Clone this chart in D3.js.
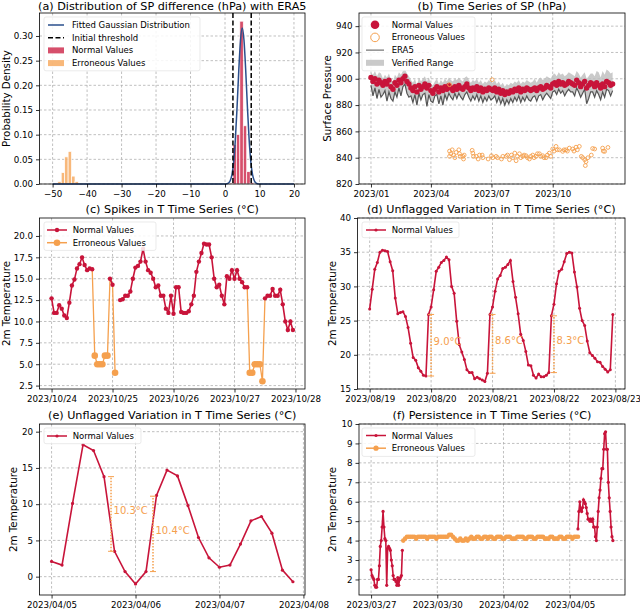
<!DOCTYPE html>
<html>
<head>
<meta charset="utf-8">
<script src="https://cdn.jsdelivr.net/npm/d3@7"></script>
<style>
  body { margin: 0; background: #fff; }
  svg { display: block; font-family: "DejaVu Sans", sans-serif; }
</style>
</head>
<body>
<script>
const red = "#c8143a", orange = "#f5a04e", blue = "#2a4f8c";

// (a) distribution of SP difference
const gaussX = [-50, 0, 0.5, 1, 1.5, 2, 2.5, 3, 3.5, 4, 4.5, 5, 5.5, 6, 6.5, 7, 7.5, 8, 8.5, 9, 9.5, 10, 20];
const gaussY = [0, 0, 0.0005, 0.002, 0.0067, 0.0186, 0.044, 0.090, 0.156, 0.231, 0.292, 0.316, 0.292, 0.231, 0.156, 0.090, 0.044, 0.0186, 0.0067, 0.002, 0.0005, 0, 0];
const thresholds = [2.3, 7.6];
const normalBinLeft = [1.3, 2.3, 3.3, 4.3, 5.3, 6.3, 7.3];
const normalDensity = [0.002, 0.08, 0.10, 0.33, 0.118, 0.025, 0.003];
const errBinLeft = [-48.5, -47.5, -46.5, -45.5, -44.5, -43.5];
const errDensity = [0.005, 0.023, 0.055, 0.066, 0.016, 0.005];

// (b) SP time series, one sample every 3 days from 2023/01/01
const spStepDays = 3;
const spNormal = [
  901, 898, 900, 896, 899, 897, 895, 898, 896, 899, 894,
  892, 897, 895, 899, 897, 900, 902, 898, 896,
  893, 891, 894, 890, 895, 892, 894, 896, 893, 895, 891,
  889, 892, 894, 890, 893, 891, 894, 892, 895, 893,
  891, 894, 892, 895, 893, 892, 894, 896, 893, 891,
  893, 892, 894, 891, 893, 890, 892, 891, 893, 892,
  891, 893, 890, 892, 889, 891, 888, 890, 889, 891,
  890, 892, 891, 893, 890, 892, 891, 893, 892, 891,
  892, 893, 891, 893, 894, 892, 893, 895, 894, 893,
  896, 897, 895, 898, 896, 897, 895, 896, 898, 897,
  896, 895, 899, 897, 894, 896, 898, 893, 895, 897,
  896, 894, 897, 895, 893, 896, 894, 898, 897, 895, 896
];
const spEra5 = [
  895, 887, 893, 885, 892, 886, 888, 891, 883, 890, 885,
  883, 890, 886, 893, 887, 894, 896, 889, 886,
  887, 882, 888, 880, 889, 884, 888, 889, 879, 888, 883,
  882, 887, 888, 881, 887, 880, 888, 884, 889, 886,
  884, 889, 885, 889, 886, 884, 888, 890, 886, 883,
  887, 884, 888, 883, 887, 882, 886, 883, 887, 884,
  885, 887, 882, 886, 881, 885, 880, 884, 881, 885,
  882, 886, 883, 887, 882, 886, 883, 887, 884, 883,
  886, 887, 883, 887, 888, 884, 887, 889, 887, 885,
  890, 891, 888, 892, 889, 891, 887, 890, 892, 890,
  890, 887, 893, 890, 886, 889, 892, 881, 885, 890,
  890, 886, 891, 888, 884, 890, 886, 892, 891, 887, 891
];
const spRangeTop = [
  905, 903, 906, 902, 905, 904, 900, 903, 901, 904, 899,
  898, 903, 901, 905, 903, 906, 907, 904, 902,
  899, 897, 900, 895, 901, 898, 900, 902, 898, 901, 896,
  895, 898, 900, 896, 899, 897, 900, 898, 901, 899,
  898, 900, 899, 901, 899, 898, 901, 902, 899, 897,
  899, 898, 900, 897, 899, 896, 898, 897, 899, 898,
  897, 899, 896, 898, 895, 897, 894, 896, 895, 897,
  896, 898, 897, 899, 896, 898, 897, 899, 898, 897,
  898, 900, 897, 900, 901, 899, 900, 902, 901, 900,
  903, 904, 902, 905, 903, 904, 902, 903, 905, 904,
  903, 902, 906, 904, 901, 903, 905, 900, 902, 904,
  904, 902, 906, 905, 901, 906, 903, 907, 906, 904, 905
];
const spErrDay = [118, 118, 120, 122, 124, 126, 128, 132, 133, 134, 138, 139, 140,
  152, 153, 154, 158, 161, 163, 167, 168, 176, 181, 183, 188, 190, 196, 198, 203, 205,
  208, 211, 213, 216, 218, 220, 223, 225, 228, 230, 233, 235, 238, 240, 243, 245, 248,
  250, 253, 255, 258, 260, 263, 265, 268, 270, 273, 275, 278, 280, 283, 288, 290, 293,
  295, 298, 303, 305, 308, 310, 313, 316, 318, 321, 322, 323, 326, 331, 333, 336, 348,
  349, 351, 356, 118, 182];
const spErrVal = [845, 841, 843, 846, 842, 840, 844, 846, 843, 841, 841, 839, 842,
  845.6, 843.5, 841, 841, 839, 842, 842, 840, 839, 841.5, 840, 841, 840, 839, 841, 841, 842,
  838.5, 842, 840, 843.5, 837.7, 841, 843, 840, 841, 842, 841.5, 840, 839, 841, 842, 840, 841,
  843, 843, 841, 841.5, 840, 840, 842, 843.5, 841, 846.6, 845, 848.6, 846, 846, 844.8, 846, 846,
  845, 847.3, 846.6, 845, 848, 846, 848.6, 841, 840, 838.5, 834, 837, 840, 842, 847, 846.6, 847.3,
  845, 844.8, 847.8, 895.5, 899.3];

// (c) hourly T from 2023/10/24 00:00, null = missing
const spikeT = [12.7, 11.0, 11.0, 11.9, 11.5, 10.7, 10.4, 12.2, 14.2, 14.9, 16.2, 16.7, 17.5, 16.6, 16.0, 16.2, 16.1,
  6.0, 5.0, 5.0, 5.0, 6.0, 6.0, 15.0, 14.3, 4.0, null,
  12.5, 12.6, 13, 13, 13.5, 15, 16.3, 16.5, 17, 18.5, 17, 16, 15.7, 15, 14, 14.2, 13, 13, 11.5, 11,
  13, 10.9, 14, 14, 11.1, 11, 11, 11.2, 12, 13, 15.8, 17, 18, 19.1, 19, 19, 17.5, 15, 14, 14.3,
  13, 12, 15.3, 15, 16, 15, 16, 15, 14.6, 14, 14,
  4, 4, 5, 5, 5, 3,
  12.7, 13, 13, 13.8, 13, 13, 13.7, 12, 10, 9, 10, 9];
const spikeErrIdx = [17, 18, 19, 20, 21, 22, 25, 78, 79, 80, 81, 82, 83];

// (d) hourly T from 2023/08/19 00:00
const diurnalT = [26.7, 29.6, 32.5, 33.5, 35.0, 35.3, 35.2, 35.1, 33.6, 32.3, 28.3, 26.0, 26.2, 26.3, 25.6, 24.0,
  21.7, 19.6, 19.2, 18.1, 17.6, 17.0, 16.9,
  25.9, 27.0, 29.5, 32.2, 32.8, 33.5, 33.8, 34.3, 33.9, 30.0, 29.0, 24.9, 21.5, 20.4, 19.3, 17.8, 17.4,
  17.4, 16.5, 16.7, 16.5, 16.3, 16.1, 17.3,
  25.9, 27.0, 29.3, 31.1, 31.6, 32.6, 32.8, 33.2, 33.8, 30.7, 28.4, 26.0, 23.0, 22.1, 20.5, 18.5, 18.4,
  17.0, 16.6, 17.2, 16.8, 16.8, 17.0, 17.4,
  25.7, 27.4, 30.4, 32.2, 32.5, 33.6, 34.8, 35.0, 34.9, 32.1, 29.9, 26.8, 25.0, 24.3, 22.0, 20.3, 19.9,
  19.5, 19.0, 18.9, 18.3, 17.9, 17.5, 17.8, 25.9];
const dJumpHour = [24, 48, 72];
const dJumpLow = [16.9, 17.3, 17.4];
const dJumpHigh = [25.9, 25.9, 25.7];
const dJumpLabel = ["9.0°C", "8.6°C", "8.3°C"];

// (e) 3-hourly T from 2023/04/05 00:00
const eStepHours = 3;
const springT = [2.1, 1.6, 10.1, 18.2, 17.4, 13.8, 3.5, 0.7, -1.0, 0.7, 11.2, 14.7, 13.9, 9.8, 5.4, 2.6,
  1.3, 1.6, 4.5, 7.7, 8.3, 6.0, 0.9, -0.7];
const eJumpHour = [17, 29];
const eJumpLow = [3.5, 0.7];
const eJumpHigh = [13.8, 11.1];
const eJumpLabel = ["10.3°C", "10.4°C"];

// (f) persistence, hours from 2023/03/27 00:00
const persistA = [2.5, 2.2, 2.1, 2.0, 1.7, 1.6, 1.6, 2.0, 2.0, 2.7, 3.7, 4.0, 4.7, 5.5, 4.7, 4.1, 4.0, 1.7,
  3.6, 3.7, 3.6, 3.5, 3.0, 2.7, 2.2, 2.0, 2.0, 1.9, 1.7, 2.1, 1.7, 2.0, 2.1, 2.2, 3.5];
const persistErrStart = 35, persistErrStep = 2;
const persistErr = [
  4.0, 4.1, 4.2, 4.2, 4.2, 4.2, 4.2, 4.1, 4.2, 4.2,
  4.2, 4.2, 4.2, 4.1, 4.2, 4.2, 4.2, 4.2, 4.1, 4.2,
  4.2, 4.2, 4.2, 4.2, 4.2, 4.3, 4.3, 4.2, 4.1, 4.0,
  4.0, 4.1, 4.0, 4.0, 4.1, 4.0, 4.1, 4.2, 4.1, 4.1,
  4.2, 4.2, 4.1, 4.1, 4.2, 4.2, 4.1, 4.2, 4.2, 4.1,
  4.1, 4.2, 4.2, 4.2, 4.1, 4.1, 4.2, 4.2, 4.2, 4.1,
  4.1, 4.1, 4.2, 4.2, 4.2, 4.2, 4.1, 4.1, 4.2, 4.2,
  4.2, 4.1, 4.1, 4.2, 4.2, 4.2, 4.2, 4.1, 4.1, 4.1,
  4.2, 4.2, 4.1, 4.1, 4.1, 4.2, 4.2, 4.1, 4.1, 4.2,
  4.2, 4.2, 4.1, 4.2, 4.2, 4.2
];
const persistBStart = 225;
const persistB = [4.6, 5.5, 6.0, 5.6, 5.5, 5.7, 6.1, 6.0, 5.9, 5.7, 5.4, 5.1, 5.1, 5.0, 5.1, 5.0, 5.1, 4.7, 4.7,
  4.2, 4.0, 4.7, 5.5, 6.2, 6.6, 7.2, 7.7, 7.7, 8.7, 9.5, 9.6, 8.7, 8.7, 7.0, 6.2, 5.5, 4.7, 4.2, 4.0];

// ---------------------------------------------------------------
const svg = d3.select("body").append("svg").attr("width", 640).attr("height", 609);
const hrs = (base, h) => new Date(base.getTime() + h * 3600e3);

function panel(box, x, y, xTicks, xFmt, yTicks, yFmt, title, ylabel, ylabX) {
  x.range([box.l, box.r]);
  y.range([box.b, box.t]);
  const root = svg.append("g");
  const grid = root.append("g").attr("stroke", "#b0b0b0").attr("stroke-width", 0.8).attr("stroke-dasharray", "2.5,2");
  grid.selectAll(".gx").data(xTicks).join("line")
    .attr("x1", d => x(d)).attr("x2", d => x(d)).attr("y1", box.t).attr("y2", box.b);
  grid.selectAll(".gy").data(yTicks).join("line")
    .attr("x1", box.l).attr("x2", box.r).attr("y1", d => y(d)).attr("y2", d => y(d));
  const g = root.append("g");
  const ax = root.append("g");
  const xa = ax.append("g").attr("transform", `translate(0,${box.b})`)
    .call(d3.axisBottom(x).tickValues(xTicks).tickFormat(xFmt).tickSize(3.5).tickPadding(3));
  const ya = ax.append("g").attr("transform", `translate(${box.l},0)`)
    .call(d3.axisLeft(y).tickValues(yTicks).tickFormat(yFmt).tickSize(3.5).tickPadding(3));
  [xa, ya].forEach(a => {
    a.select(".domain").remove();
    a.attr("font-size", 8.7).attr("font-family", "DejaVu Sans");
    a.selectAll("line").attr("stroke-width", 0.8);
    a.selectAll("text").attr("fill", "#000");
  });
  ax.append("rect").attr("x", box.l).attr("y", box.t).attr("width", box.r - box.l).attr("height", box.b - box.t)
    .attr("fill", "none").attr("stroke", "#000").attr("stroke-width", 0.8);
  ax.append("text").attr("x", (box.l + box.r) / 2).attr("y", Math.max(box.t - 5, 9.6)).attr("text-anchor", "middle")
    .attr("font-size", 11.2).text(title);
  ax.append("text").attr("transform", `translate(${ylabX},${(box.t + box.b) / 2}) rotate(-90)`)
    .attr("text-anchor", "middle").attr("dominant-baseline", "central").attr("font-size", 10.3).text(ylabel);
  return {g, ax};
}

function legend(parent, bx, by, bw, rows, hx0, hx1, tx, y0) {
  const lg = parent.append("g");
  lg.append("rect").attr("x", bx).attr("y", by).attr("width", bw).attr("height", rows.length * 12.7 + 3)
    .attr("rx", 2).attr("fill", "#fff").attr("fill-opacity", 0.85).attr("stroke", "#dcdcdc").attr("stroke-width", 0.6);
  rows.forEach((r, i) => {
    const yy = y0 + i * 12.7;
    if (r.patch) {
      lg.append("rect").attr("x", hx0).attr("y", yy - 3).attr("width", hx1 - hx0).attr("height", 6)
        .attr("fill", r.patch).attr("fill-opacity", r.op || 1);
    }
    if (r.line) {
      lg.append("line").attr("x1", hx0).attr("x2", hx1).attr("y1", yy).attr("y2", yy)
        .attr("stroke", r.line).attr("stroke-width", r.lw || 1.5).attr("stroke-dasharray", r.dash || null);
    }
    if (r.marker) {
      lg.append("circle").attr("cx", (hx0 + hx1) / 2).attr("cy", yy).attr("r", r.mr)
        .attr("fill", r.open ? "none" : r.marker).attr("stroke", r.marker).attr("stroke-width", r.open ? 1 : 0);
    }
    lg.append("text").attr("x", tx).attr("y", yy).attr("dominant-baseline", "central")
      .attr("font-size", 8.5).text(r.label);
  });
}

function jumps(g, x, y, times, lows, highs, labels) {
  times.forEach((t, i) => {
    const xx = x(t), y0 = y(lows[i]), y1 = y(highs[i]);
    g.append("line").attr("x1", xx).attr("x2", xx).attr("y1", y0).attr("y2", y1)
      .attr("stroke", orange).attr("stroke-width", 1.5).attr("stroke-dasharray", "1.5,1.5");
    [y0, y1].forEach(v => g.append("line").attr("x1", xx - 3).attr("x2", xx + 3).attr("y1", v).attr("y2", v)
      .attr("stroke", orange).attr("stroke-width", 1));
    g.append("text").attr("x", xx + 2.5).attr("y", (y0 + y1) / 2 - 3.5).attr("dominant-baseline", "central")
      .attr("font-size", 10).attr("fill", orange).text(labels[i]);
  });
}

const minusFmt = d => (d < 0 ? "\u2212" + Math.abs(d) : String(d));

// ---------- (a)
{
  const box = {l: 39.5, r: 305, t: 13, b: 184};
  const x = d3.scaleLinear().domain([-53.8, 23.2]);
  const y = d3.scaleLinear().domain([0, 0.3466]);
  const {g, ax} = panel(box, x, y, d3.range(-50, 21, 10), minusFmt, [0, 0.05, 0.1, 0.15, 0.2, 0.25, 0.3], d3.format(".2f"),
    "(a) Distribution of SP difference (hPa) with ERA5", "Probability Density", 5.5);
  const bars = (lefts, dens, color) => g.append("g").selectAll("rect").data(lefts).join("rect")
    .attr("x", d => x(d)).attr("width", d => x(d + 1) - x(d))
    .attr("y", (d, i) => y(dens[i])).attr("height", (d, i) => y(0) - y(dens[i]))
    .attr("fill", color).attr("fill-opacity", 0.75).attr("stroke", "#fff").attr("stroke-width", 0.7);
  bars(normalBinLeft, normalDensity, red);
  bars(errBinLeft, errDensity, orange);
  g.append("path").datum(gaussX.map((v, i) => [v, gaussY[i]]))
    .attr("d", d3.line().x(d => x(d[0])).y(d => y(d[1])).curve(d3.curveMonotoneX))
    .attr("fill", "none").attr("stroke", blue).attr("stroke-width", 1.5);
  g.selectAll(".thr").data(thresholds).join("line")
    .attr("x1", d => x(d)).attr("x2", d => x(d)).attr("y1", box.t).attr("y2", box.b)
    .attr("stroke", "#000").attr("stroke-width", 1.5).attr("stroke-dasharray", "5,2.5");
  legend(g, 44, 17, 156, [
    {label: "Fitted Gaussian Distribution", line: blue},
    {label: "Initial threshold", line: "#000", dash: "5,2.5"},
    {label: "Normal Values", patch: red, op: 0.75},
    {label: "Erroneous Values", patch: orange, op: 0.75}
  ], 48, 64, 72, 25);
  ax.raise();
}

// ---------- (b)
{
  const box = {l: 359, r: 625, t: 13, b: 184};
  const base = new Date(2023, 0, 1);
  const day = d => new Date(base.getTime() + d * 864e5);
  const x = d3.scaleTime().domain([day(-18), day(381.6)]);
  const y = d3.scaleLinear().domain([820, 950]);
  const {g, ax} = panel(box, x, y, [new Date(2023, 0, 1), new Date(2023, 3, 1), new Date(2023, 6, 1), new Date(2023, 9, 1)],
    d3.timeFormat("%Y/%m"), d3.range(820, 941, 20), d3.format("d"), "(b) Time Series of SP (hPa)", "Surface Pressure", 326.7);
  const pts = spNormal.map((v, i) => i);
  g.append("path").datum(pts)
    .attr("d", d3.area().x(i => x(day(i * spStepDays))).y0(i => y(spEra5[i])).y1(i => y(spRangeTop[i])))
    .attr("fill", "#bdbdbd").attr("fill-opacity", 0.8);
  g.append("path").datum(pts)
    .attr("d", d3.line().x(i => x(day(i * spStepDays))).y(i => y(spEra5[i])))
    .attr("fill", "none").attr("stroke", "#555").attr("stroke-width", 1.2);
  g.append("g").selectAll("circle").data(pts).join("circle")
    .attr("cx", i => x(day(i * spStepDays))).attr("cy", i => y(spNormal[i])).attr("r", 2.7).attr("fill", red);
  g.append("g").selectAll("circle").data(spErrDay).join("circle")
    .attr("cx", d => x(day(d))).attr("cy", (d, i) => y(spErrVal[i])).attr("r", 1.9)
    .attr("fill", "none").attr("stroke", orange).attr("stroke-width", 0.9);
  legend(g, 362, 17, 113, [
    {label: "Normal Values", marker: red, mr: 4.3},
    {label: "Erroneous Values", marker: orange, mr: 4.3, open: true},
    {label: "ERA5", line: "#555", lw: 1},
    {label: "Verified Range", patch: "#bdbdbd", op: 0.8}
  ], 366, 384, 391.7, 24.7);
  ax.raise();
}

// ---------- (c)
{
  const box = {l: 39.5, r: 305, t: 218, b: 389};
  const base = new Date(2023, 9, 24);
  const x = d3.scaleTime().domain([hrs(base, -4.75), hrs(base, 99.75)]);
  const y = d3.scaleLinear().domain([2.1, 22.1]);
  const {g, ax} = panel(box, x, y, d3.range(5).map(d => hrs(base, d * 24)), d3.timeFormat("%Y/%m/%d"),
    [2.5, 5, 7.5, 10, 12.5, 15, 17.5, 20], d3.format(".1f"), "(c) Spikes in T Time Series (°C)", "2m Temperature", 5.5);
  const isErr = i => spikeErrIdx.includes(i);
  const pts = spikeT.map((v, i) => ({i, v, t: hrs(base, i), err: isErr(i)}));
  g.append("path").datum(pts)
    .attr("d", d3.line().defined(d => d.v !== null && (d.err || isErr(d.i - 1) || isErr(d.i + 1)))
      .x(d => x(d.t)).y(d => y(d.v)))
    .attr("fill", "none").attr("stroke", orange).attr("stroke-width", 1.3);
  const normal = pts.filter(d => d.v !== null && !d.err);
  g.append("path").datum(pts)
    .attr("d", d3.line().defined(d => d.v !== null && !d.err).x(d => x(d.t)).y(d => y(d.v)))
    .attr("fill", "none").attr("stroke", red).attr("stroke-width", 1.6);
  g.append("g").selectAll("circle").data(normal).join("circle")
    .attr("cx", d => x(d.t)).attr("cy", d => y(d.v)).attr("r", 2.2).attr("fill", red);
  g.append("g").selectAll("circle").data(pts.filter(d => d.err)).join("circle")
    .attr("cx", d => x(d.t)).attr("cy", d => y(d.v)).attr("r", 3.3).attr("fill", orange);
  legend(g, 44, 222, 112, [
    {label: "Normal Values", line: red, marker: red, mr: 2.2},
    {label: "Erroneous Values", line: orange, marker: orange, mr: 3.3}
  ], 47, 67, 72.7, 230);
  ax.raise();
}

// ---------- (d)
{
  const box = {l: 357.5, r: 625, t: 218, b: 389};
  const base = new Date(2023, 7, 19);
  const x = d3.scaleTime().domain([hrs(base, -4.75), hrs(base, 99.75)]);
  const y = d3.scaleLinear().domain([15, 40]);
  const {g, ax} = panel(box, x, y, d3.range(5).map(d => hrs(base, d * 24)), d3.timeFormat("%Y/%m/%d"),
    [15, 20, 25, 30, 35, 40], d3.format("d"), "(d) Unflagged Variation in T Time Series (°C)", "2m Temperature", 332.3);
  const pts = diurnalT.map((v, i) => ({t: hrs(base, i), v}));
  g.append("path").datum(pts).attr("d", d3.line().x(d => x(d.t)).y(d => y(d.v)))
    .attr("fill", "none").attr("stroke", red).attr("stroke-width", 1.6);
  g.append("g").selectAll("circle").data(pts).join("circle")
    .attr("cx", d => x(d.t)).attr("cy", d => y(d.v)).attr("r", 1.5).attr("fill", red);
  jumps(g, x, y, dJumpHour.map(h => hrs(base, h)), dJumpLow, dJumpHigh, dJumpLabel);
  legend(g, 362, 222, 97, [{label: "Normal Values", line: red, marker: red, mr: 1.6}], 366, 386, 391.7, 230);
  ax.raise();
}

// ---------- (e)
{
  const box = {l: 39.5, r: 305, t: 424, b: 595};
  const base = new Date(2023, 3, 5);
  const x = d3.scaleTime().domain([hrs(base, -3.45), hrs(base, 72.45)]);
  const y = d3.scaleLinear().domain([-2.53, 21.06]);
  const {g, ax} = panel(box, x, y, d3.range(4).map(d => hrs(base, d * 24)), d3.timeFormat("%Y/%m/%d"),
    [0, 5, 10, 15, 20], d3.format("d"), "(e) Unflagged Variation in T Time Series (°C)", "2m Temperature", 12.5);
  const pts = springT.map((v, i) => ({t: hrs(base, i * eStepHours), v}));
  g.append("path").datum(pts).attr("d", d3.line().x(d => x(d.t)).y(d => y(d.v)))
    .attr("fill", "none").attr("stroke", red).attr("stroke-width", 1.6);
  g.append("g").selectAll("circle").data(pts).join("circle")
    .attr("cx", d => x(d.t)).attr("cy", d => y(d.v)).attr("r", 1.6).attr("fill", red);
  jumps(g, x, y, eJumpHour.map(h => hrs(base, h)), eJumpLow, eJumpHigh, eJumpLabel);
  legend(g, 44, 428, 97, [{label: "Normal Values", line: red, marker: red, mr: 1.6}], 47, 67, 72.7, 436);
  ax.raise();
}

// ---------- (f)
{
  const box = {l: 359, r: 625, t: 424, b: 595};
  const base = new Date(2023, 2, 27);
  const x = d3.scaleTime().domain([hrs(base, -13.15), hrs(base, 276.15)]);
  const y = d3.scaleLinear().domain([1.2, 10]);
  const {g, ax} = panel(box, x, y, [0, 3, 6, 9].map(d => hrs(base, d * 24)), d3.timeFormat("%Y/%m/%d"),
    d3.range(2, 11), d3.format("d"), "(f) Persistence in T Time Series (°C)", "2m Temperature", 332.3);
  const segA = persistA.map((v, i) => ({t: hrs(base, i), v}));
  const segE = persistErr.map((v, i) => ({t: hrs(base, persistErrStart + i * persistErrStep), v}));
  const segB = persistB.map((v, i) => ({t: hrs(base, persistBStart + i), v}));
  const line = d3.line().x(d => x(d.t)).y(d => y(d.v));
  g.append("path").datum(segE).attr("d", line).attr("fill", "none").attr("stroke", orange).attr("stroke-width", 1.5);
  g.append("g").selectAll("circle").data(segE).join("circle")
    .attr("cx", d => x(d.t)).attr("cy", d => y(d.v)).attr("r", 2.3).attr("fill", orange);
  [segA, segB].forEach(seg => {
    g.append("path").datum(seg).attr("d", line).attr("fill", "none").attr("stroke", red).attr("stroke-width", 1.6);
    g.append("g").selectAll("circle").data(seg).join("circle")
      .attr("cx", d => x(d.t)).attr("cy", d => y(d.v)).attr("r", 1.6).attr("fill", red);
  });
  legend(g, 362, 428, 113, [
    {label: "Normal Values", line: red, marker: red, mr: 1.6},
    {label: "Erroneous Values", line: orange, marker: orange, mr: 2.6}
  ], 366, 386, 391.7, 435.5);
  ax.raise();
}
</script>
</body>
</html>
